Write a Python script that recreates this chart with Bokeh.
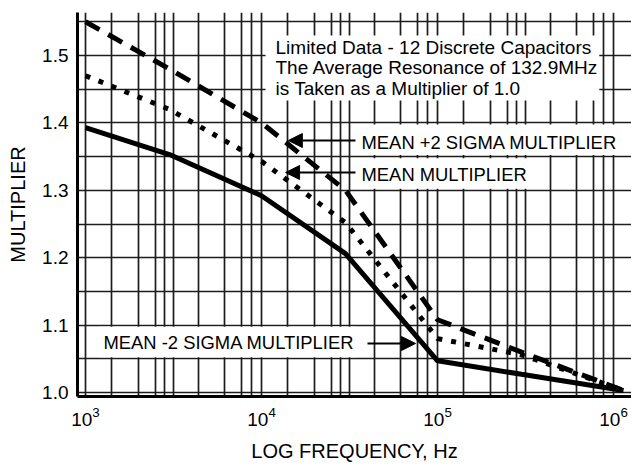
from bokeh.plotting import figure
from bokeh.models import (Range1d, FixedTicker, PrintfTickFormatter, Label, Arrow,
                          NormalHead, BoxAnnotation, ColumnDataSource)
from bokeh.embed import file_html
from bokeh.resources import INLINE

# ---- data ----
freq_hz = [1e3, 3e3, 1e4, 3e4, 1e5, 3e5, 1.14e6]
mean_plus_2sigma = [1.550, 1.480, 1.400, 1.300, 1.108, 1.060, 1.003]
mean_mult = [1.470, 1.420, 1.343, 1.252, 1.080, 1.056, 1.003]
mean_minus_2sigma = [1.393, 1.353, 1.292, 1.206, 1.047, 1.027, 1.003]

x_ticks = [1e3, 1e4, 1e5, 1e6]
y_ticks = [1.0, 1.1, 1.2, 1.3, 1.4, 1.5]
y_grid = [1.0, 1.05, 1.1, 1.15, 1.2, 1.25, 1.3, 1.35, 1.4, 1.45, 1.5, 1.55]
# the drawn (irregular) chart-paper grid, as multipliers within each decade
grid_mults = [1.0, 1.4, 2.0, 2.5, 2.8, 3.15, 4.4, 6.2, 7.7, 8.8]
decades = [1e3, 1e4, 1e5]
x_grid = [m * d for d in decades for m in grid_mults] + [1e6]

note_lines = ["Limited Data - 12 Discrete Capacitors",
              "The Average Resonance of 132.9MHz",
              "is Taken as a Multiplier of 1.0"]

FONT = "Liberation Sans"

src = ColumnDataSource(dict(f=freq_hz, hi=mean_plus_2sigma, mid=mean_mult, lo=mean_minus_2sigma))

p = figure(width=631, height=465, x_axis_type="log",
           x_range=Range1d(900.5, 1.265e6), y_range=Range1d(0.9941, 1.5638),
           output_backend="svg", toolbar_location=None,
           min_border_left=77, min_border_right=0, min_border_top=12, min_border_bottom=69)
p.outline_line_color = None
p.background_fill_color = "white"
p.border_fill_color = "white"

# grid
p.xgrid.ticker = FixedTicker(ticks=x_grid)
p.ygrid.ticker = FixedTicker(ticks=y_grid)
for g in (p.xgrid, p.ygrid):
    g.grid_line_color = "#1c1c1c"
    g.grid_line_width = 1.7
    g.grid_line_alpha = 1.0

# axes
p.xaxis.ticker = FixedTicker(ticks=x_ticks)
p.yaxis.ticker = FixedTicker(ticks=y_ticks)
p.yaxis.formatter = PrintfTickFormatter(format="%.1f")
for ax in (p.xaxis, p.yaxis):
    ax.axis_line_width = 3
    ax.axis_line_color = "black"
    ax.major_tick_line_color = None
    ax.minor_tick_line_color = None
    ax.major_tick_out = 0
    ax.major_tick_in = 0
    ax.major_label_text_font = FONT
    ax.major_label_text_font_size = "19px"
    ax.major_label_text_color = "black"
    ax.axis_label_text_font = FONT
    ax.axis_label_text_font_size = "20px"
    ax.axis_label_text_font_style = "normal"
    ax.axis_label_text_color = "black"
p.xaxis.axis_label = "LOG FREQUENCY, Hz"
p.yaxis.axis_label = "MULTIPLIER"
p.xaxis.major_label_standoff = 10
p.xaxis.axis_label_standoff = 11
p.yaxis.major_label_standoff = 9
p.yaxis.axis_label_standoff = 10

# curves
p.line("f", "hi", source=src, line_width=5, line_color="black", line_dash="16 10")
p.line("f", "mid", source=src, line_width=5, line_color="black", line_dash="5 9")
p.line("f", "lo", source=src, line_width=5, line_color="black")

# white knock-out boxes behind the texts
boxes = [
    (1.054e4, 8.3e5, 1.4332, 1.5297),
    (3.34e4, 1.12e6, 1.3525, 1.3975),
    (3.34e4, 3.24e5, 1.3025, 1.3475),
    (1.185e3, 3.45e4, 1.0525, 1.0975),
]
for l, r, b, t in boxes:
    p.add_layout(BoxAnnotation(left=l, right=r, bottom=b, top=t, fill_color="white",
                               fill_alpha=1.0, line_color=None))

for txt, yy in zip(note_lines, [1.512, 1.4816, 1.4511]):
    p.add_layout(Label(x=1.201e4, y=yy, text=txt, text_font=FONT, text_font_size="19px",
                       text_color="black", text_baseline="alphabetic", text_align="left"))

for txt, xx, yy in [("MEAN +2 SIGMA MULTIPLIER", 3.70e4, 1.3706),
                    ("MEAN MULTIPLIER", 3.70e4, 1.3235),
                    ("MEAN -2 SIGMA MULTIPLIER", 1.265e3, 1.0743)]:
    p.add_layout(Label(x=xx, y=yy, text=txt, text_font=FONT, text_font_size="18.4px",
                       text_color="black", text_baseline="alphabetic", text_align="left"))

for xs, xe, yy in [(3.42e4, 1.42e4, 1.3739), (3.42e4, 1.37e4, 1.3264), (4.0e4, 7.5e4, 1.0727)]:
    p.add_layout(Arrow(x_start=xs, y_start=yy, x_end=xe, y_end=yy, line_width=2, line_color="black",
                       end=NormalHead(size=14, fill_color="black", line_color="black")))

open("out.html", "w").write(file_html(p, INLINE))
